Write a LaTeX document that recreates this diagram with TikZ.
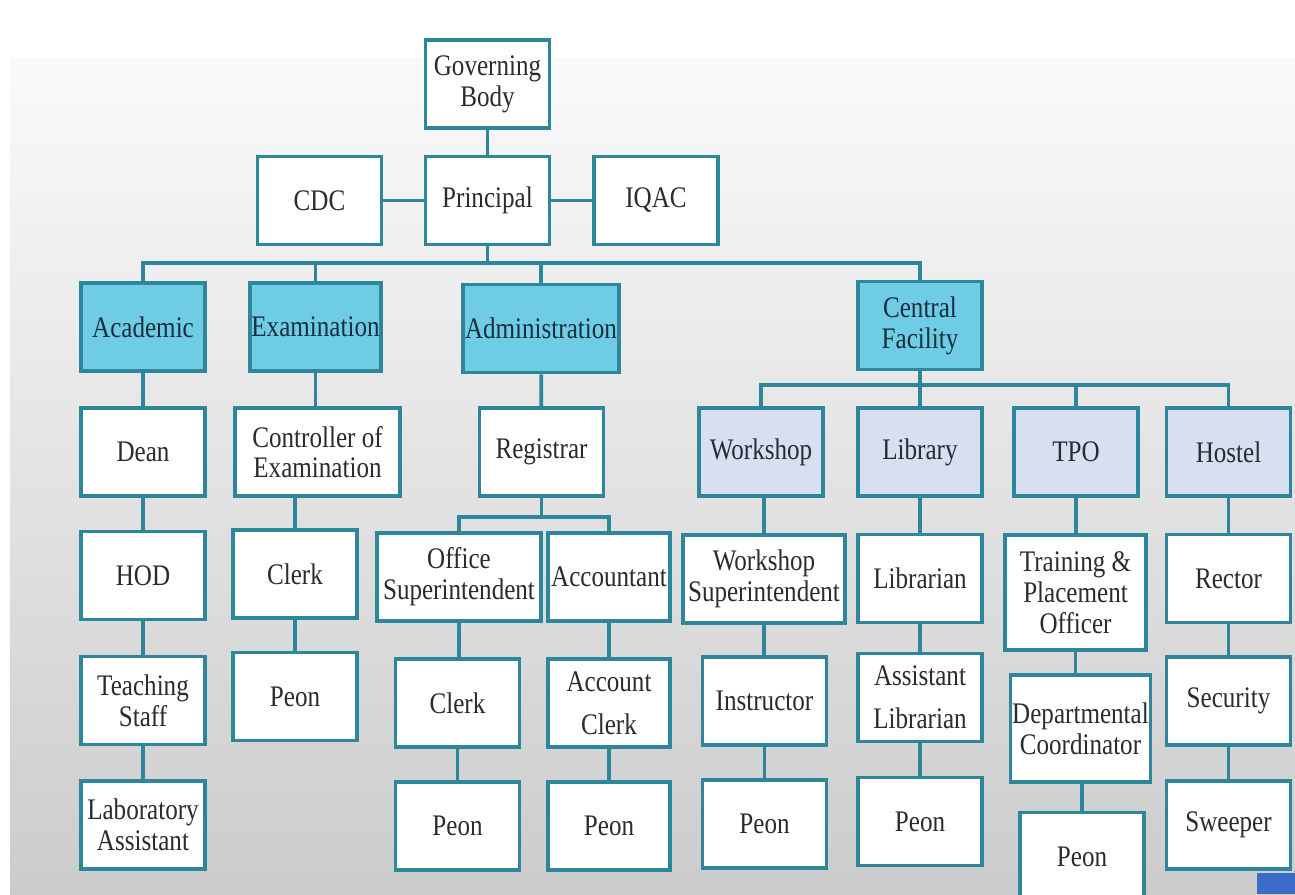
\documentclass[tikz,border=0pt]{standalone}
\usepackage{fontspec}
\setmainfont{Liberation Serif}[FakeStretch=0.84]
\usepackage{tikz}
\usetikzlibrary{positioning,calc}

\definecolor{edge}{RGB}{46,134,154}
\definecolor{topfill}{RGB}{110,204,228}
\definecolor{subfill}{RGB}{214,224,240}
\definecolor{ink}{RGB}{40,44,48}
\definecolor{deptink}{RGB}{24,46,62}
\definecolor{corner}{RGB}{60,107,200}

\begin{document}
\begin{tikzpicture}[
    x=0.02cm, y=-0.02cm,
    font=\fontsize{17pt}{17.5pt}\selectfont,
    box/.style={draw=edge, line width=2.2pt, fill=white, text=ink, align=center,
      minimum width=2.48cm, minimum height=1.76cm, inner sep=1pt},
    dept/.style={box, fill=topfill, text=deptink},
    unit/.style={box, fill=subfill},
    wide/.style={minimum width=#1},
    link/.style={draw=edge, line width=2.2pt}
  ]
  % background
  \useasboundingbox (0,0) rectangle (1295,894);
  \fill[white] (0,0) rectangle (1295,894);
  \shade[top color=white!98!black, bottom color=white!80!black] (10,58) rectangle (1295,894);
  \fill[corner] (1257,873) rectangle (1295,894);

  % top of the chart
  \node[box] (gov) at (487.5,84) {Governing\\Body};
  \node[box] (principal) at (487.5,200.5) {Principal};
  \node[box] (cdc) at (319.5,200.5) {CDC};
  \node[box] (iqac) at (656,200.5) {IQAC};
  % departments
  \node[dept] (acad) at (143,327) {Academic};
  \node[dept] (exam) at (315.5,327) {Examination};
  \node[dept, wide=3cm] (admin) at (541,328.5) {Administration};
  \node[dept] (central) at (920,325.5) {Central\\Facility};
  % academic column
  \node[box] (dean) at (143,452) {Dean};
  \node[box] (hod) at (143,575.5) {HOD};
  \node[box] (teach) at (143,700.5) {Teaching\\Staff};
  \node[box] (labas) at (143,825) {Laboratory\\Assistant};
  % examination column
  \node[box, wide=3.3cm] (coe) at (317.5,452) {Controller of\\Examination};
  \node[box] (eclerk) at (295,574) {Clerk};
  \node[box] (epeon) at (295,696.5) {Peon};
  % administration columns
  \node[box] (reg) at (541.5,452) {Registrar};
  \node[box, wide=3.28cm] (osup) at (459,577) {Office\\Superintendent};
  \node[box, wide=2.44cm] (acct) at (609,577) {Accountant};
  \node[box] (oclerk) at (457.5,703) {Clerk};
  \node[box, wide=2.44cm] (aclerk) at (609,703) {Account\\[7pt]Clerk};
  \node[box] (opeon) at (457.5,826) {Peon};
  \node[box, wide=2.44cm] (apeon) at (609,826) {Peon};
  % central facility units
  \node[unit] (wshop) at (761,452) {Workshop};
  \node[unit] (lib) at (920,452) {Library};
  \node[unit] (tpo) at (1076,452) {TPO};
  \node[unit] (hostel) at (1228.5,452) {Hostel};
  \node[box, wide=3.24cm] (wsup) at (764,579) {Workshop\\Superintendent};
  \node[box] (instr) at (764.5,701) {Instructor};
  \node[box] (wpeon) at (764.5,824) {Peon};
  \node[box] (librn) at (920,578.5) {Librarian};
  \node[box] (alib) at (920,697.5) {Assistant\\[7pt]Librarian};
  \node[box] (lpeon) at (920,821.5) {Peon};
  \node[box, wide=2.82cm, minimum height=2.3cm] (tpoff) at (1075.5,592.5) {Training \&\\Placement\\Officer};
  \node[box, wide=2.74cm, minimum height=2.14cm] (dcoord) at (1080.5,728.5) {Departmental\\Coordinator};
  \node[box] (tpeon) at (1082,856.5) {Peon};
  \node[box] (rector) at (1228.5,578.5) {Rector};
  \node[box] (secu) at (1228.5,701) {Security};
  \node[box] (sweep) at (1228.5,825) {Sweeper};

  % connectors
  \draw[link] (gov) -- (principal);
  \draw[link] (cdc) -- (principal);
  \draw[link] (principal) -- (iqac);
  \draw[link] (principal.south) -- ++(0,18.5);
  \draw[link] (acad.north) |- (central.north |- 0,263) -- (central.north);
  \draw[link] (exam.north) -- (exam.north |- 0,263);
  \draw[link] (admin.north) -- (admin.north |- 0,263);
  \draw[link] (central.south) -- ++(0,15.5);
  \draw[link] (wshop.north) |- (hostel.north |- 0,385) -- (hostel.north);
  \draw[link] (lib.north) -- (lib.north |- 0,385);
  \draw[link] (tpo.north) -- (tpo.north |- 0,385);
  \draw[link] (acad) -- (dean) -- (hod) -- (teach) -- (labas);
  \draw[link] (exam.south) -- (exam.south |- coe.north);
  \draw[link] (eclerk.north |- coe.south) -- (eclerk) -- (epeon);
  \draw[link] (admin) -- (reg);
  \draw[link] (reg.south) -- ++(0,20);
  \draw[link] (osup.north) |- (acct.north |- 0,517) -- (acct.north);
  \draw[link] (osup.south) -- (oclerk.north -| osup.south);
  \draw[link] (oclerk) -- (opeon);
  \draw[link] (acct) -- (aclerk) -- (apeon);
  \draw[link] (wsup.north |- wshop.south) -- (wsup);
  \draw[link] (wsup.south) -- (instr.north -| wsup.south);
  \draw[link] (instr) -- (wpeon);
  \draw[link] (lib) -- (librn) -- (alib) -- (lpeon);
  \draw[link] (tpo) -- (tpo |- tpoff.north);
  \draw[link] (tpoff.south) -- (tpoff.south |- dcoord.north);
  \draw[link] (tpeon.north |- dcoord.south) -- (tpeon.north);
  \draw[link] (hostel) -- (rector) -- (secu) -- (sweep);
\end{tikzpicture}
\end{document}
